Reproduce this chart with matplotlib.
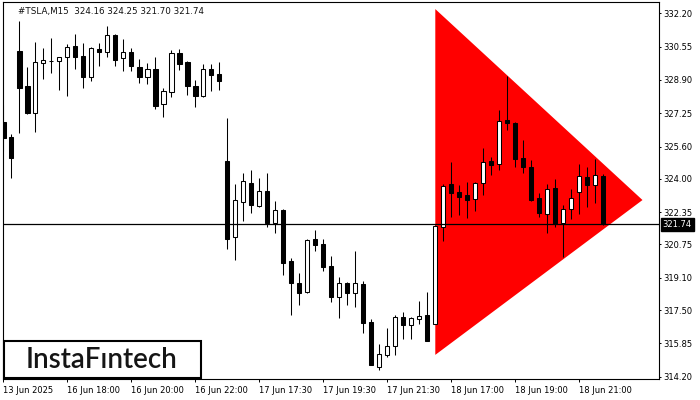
import matplotlib
matplotlib.use("Agg")
import matplotlib.pyplot as plt
from matplotlib.patches import Rectangle

# M15 candles (first one is clipped by the left frame)
opens = [326.83, 326.09, 330.33, 328.60, 327.28, 329.72, 329.82, 329.82, 330.02, 330.58,
         330.09, 329.06, 330.43, 330.27, 331.14, 329.97, 330.28, 329.54, 329.03, 329.44,
         327.69, 328.29, 330.25, 329.80, 328.60, 328.10, 329.43, 329.19, 324.88, 321.11,
         322.87, 323.80, 322.67, 323.40, 321.83, 322.46, 319.93, 318.84, 318.41, 321.02,
         320.77, 319.68, 318.13, 318.84, 318.36, 318.79, 316.91, 314.70, 315.29, 315.71,
         317.16, 316.78, 317.07, 317.26, 316.83, 321.60, 323.75, 323.35, 323.20, 322.99,
         323.78, 324.88, 324.72, 326.92, 326.77, 325.02, 324.57, 323.05, 322.24, 323.55,
         321.80, 322.49, 323.33, 324.09, 323.68, 324.16]
highs = [327.66, 326.22, 331.83, 329.56, 330.78, 330.47, 330.99, 330.05, 330.69, 331.16,
         330.74, 330.55, 330.74, 331.59, 331.18, 330.93, 330.48, 329.92, 329.75, 330.05,
         328.52, 330.38, 330.42, 329.85, 328.90, 329.67, 329.71, 329.77, 327.01, 323.75,
         324.29, 324.44, 324.04, 324.29, 322.90, 322.52, 320.07, 319.34, 321.02, 321.47,
         321.02, 320.18, 319.15, 318.89, 320.43, 318.94, 317.06, 315.82, 316.61, 317.26,
         317.41, 317.16, 317.95, 318.40, 321.72, 323.75, 324.84, 323.68, 323.84, 323.84,
         325.51, 325.10, 327.41, 329.11, 326.80, 325.92, 324.93, 323.28, 323.75, 323.99,
         322.69, 323.48, 324.72, 324.60, 324.98, 324.25]
lows = [325.39, 324.02, 326.29, 327.21, 326.34, 328.95, 329.26, 328.40, 328.12, 329.44,
        328.52, 328.83, 329.59, 330.05, 329.61, 329.36, 329.34, 328.73, 328.70, 327.46,
        327.05, 328.07, 329.39, 328.15, 327.54, 328.03, 328.35, 328.40, 320.54, 319.98,
        321.93, 322.32, 322.61, 321.63, 321.33, 319.25, 317.27, 317.77, 318.36, 320.44,
        319.45, 317.92, 317.12, 317.77, 317.67, 316.38, 314.80, 314.55, 315.19, 315.29,
        316.08, 316.08, 316.83, 315.98, 316.83, 320.92, 322.13, 322.22, 322.08, 322.42,
        323.19, 324.18, 324.45, 326.44, 324.60, 324.28, 322.92, 322.13, 321.30, 321.60,
        320.14, 322.03, 322.26, 322.62, 322.79, 321.70]
closes = [326.04, 325.05, 328.52, 327.28, 329.77, 329.89, 329.82, 330.02, 330.55, 330.05,
          329.03, 330.47, 330.30, 331.13, 329.90, 330.27, 329.61, 329.06, 329.43, 327.61,
          328.35, 330.22, 329.70, 328.60, 328.12, 329.43, 329.14, 328.86, 321.04, 322.95,
          323.89, 322.72, 323.40, 321.83, 322.46, 319.85, 318.86, 318.36, 320.97, 320.74,
          319.65, 318.16, 318.84, 318.36, 318.84, 316.88, 314.80, 315.31, 315.71, 317.16,
          316.78, 317.11, 317.19, 315.98, 321.66, 323.65, 323.31, 323.12, 322.97, 323.78,
          324.82, 324.70, 326.85, 326.75, 325.00, 324.60, 322.95, 322.32, 323.48, 321.76,
          322.49, 323.04, 324.13, 323.71, 324.18, 321.74]

x_labels = ["13 Jun 2025", "16 Jun 18:00", "16 Jun 20:00", "16 Jun 22:00", "17 Jun 17:30",
            "17 Jun 19:30", "17 Jun 21:30", "18 Jun 17:00", "18 Jun 19:00", "18 Jun 21:00"]
y_ticks = [332.20, 330.55, 328.90, 327.25, 325.60, 324.00, 322.35, 320.75,
           319.10, 317.50, 315.85, 314.20]

# bearish symmetrical triangle (bar index, price)
tri_bars = [54.0, 54.0, 79.9]
tri_prices = [332.41, 315.28, 322.95]

title = "#TSLA,M15  324.16 324.25 321.70 321.74"

W, H = 700, 400
fig = plt.figure(figsize=(7, 4), dpi=100)
ax = fig.add_axes([2.7 / W, (H - 379.3) / H, (659.3 - 2.7) / W, (379.3 - 2) / H])

ax.fill(tri_bars, tri_prices, color="#ff0000", lw=0, zorder=1)

idx = list(range(len(opens)))
ax.vlines(idx, lows, highs, color="black", lw=0.75, zorder=2)
bottoms = [min(o, c) for o, c in zip(opens, closes)]
heights = [abs(c - o) for o, c in zip(opens, closes)]
colors = ["white" if c >= o else "black" for o, c in zip(opens, closes)]
ax.bar(idx, heights, bottom=bottoms, width=0.55, color=colors,
       edgecolor="black", linewidth=0.75, zorder=3)

ax.axhline(closes[-1], color="black", lw=0.9, zorder=4)

ax.set_xlim(-0.075, 82.0)
ax.set_ylim(314.07, 332.76)

ax.set_xticks([8 * k for k in range(len(x_labels))])
ax.set_xticklabels(x_labels, ha="left", fontsize=6)
ax.yaxis.tick_right()
ax.set_yticks(y_ticks)
ax.set_yticklabels(["%.2f" % v for v in y_ticks], fontsize=6)
ax.tick_params(axis="x", direction="out", length=2.2, width=0.7, pad=2.5)
ax.tick_params(axis="y", direction="out", length=1.5, width=0.7, pad=1.5)
for s in ax.spines.values():
    s.set_linewidth(0.8)

# current price tag
ax.annotate("%.2f" % closes[-1], xy=(1.0, closes[-1]), xycoords=("axes fraction", "data"),
            xytext=(2.5, 0), textcoords="offset points", va="center", ha="left",
            fontsize=6, color="white",
            bbox=dict(boxstyle="square,pad=0.25", fc="black", ec="black"))

fig.text(18 / W, 1 - 11.5 / H, title, fontsize=6.3, va="center", ha="left", color="#111111")

# logo
fig.add_artist(Rectangle((3.5 / W, (H - 377.5) / H), 197.5 / W, 36.7 / H,
                         transform=fig.transFigure, fc="white", ec="black", lw=1.5))
fig.text(101.5 / W, 1 - 359.5 / H, "InstaF\u0131ntech", family="Lato", fontsize=20,
         fontweight=600, ha="center", va="center", color="#151515")

fig.savefig("out.png", dpi=100)
